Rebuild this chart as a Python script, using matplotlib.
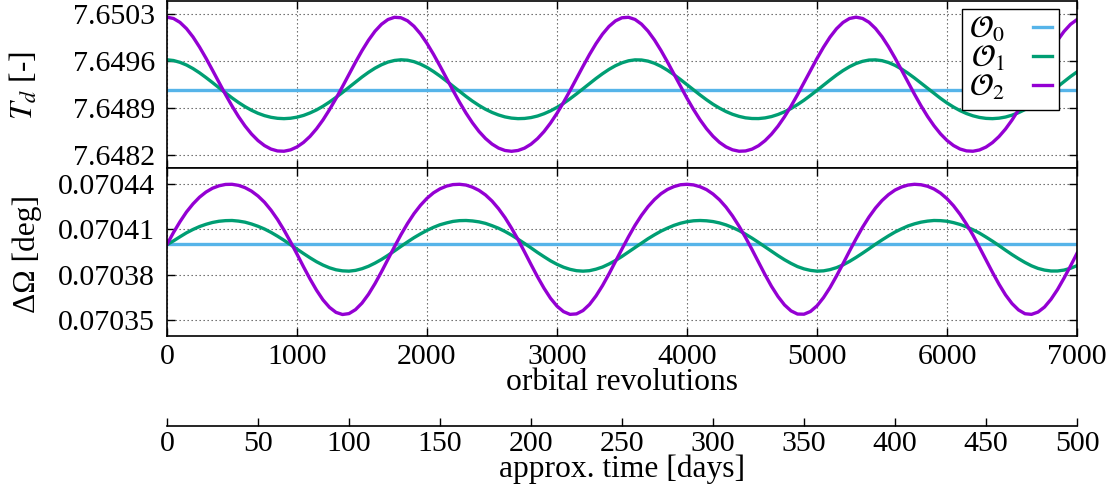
import numpy as np
import matplotlib
matplotlib.use("Agg")
import matplotlib.pyplot as plt
from matplotlib.ticker import FormatStrFormatter, MultipleLocator

plt.rcParams['font.family'] = ['Liberation Serif', 'DejaVu Serif']
plt.rcParams['mathtext.fontset'] = 'stix'

# Abtastung in Umlaeufen (orbital revolutions), alle 50
rev = np.arange(0, 7001, 50)
rev_o0 = [0, 7000]

# T_d [-]
td_o0 = [7.649162, 7.649162]
td_o1 = [7.649619, 7.649608, 7.649581, 7.649541, 7.649488, 7.649425, 7.649354, 7.649279, 7.649201, 7.649125,
         7.649051, 7.648982, 7.648920, 7.648866, 7.648821, 7.648786, 7.648761, 7.648746, 7.648741, 7.648747,
         7.648763, 7.648789, 7.648826, 7.648871, 7.648926, 7.648989, 7.649058, 7.649132, 7.649209, 7.649287,
         7.649362, 7.649432, 7.649494, 7.649545, 7.649585, 7.649609, 7.649619, 7.649613, 7.649591, 7.649554,
         7.649505, 7.649444, 7.649376, 7.649302, 7.649225, 7.649147, 7.649073, 7.649002, 7.648938, 7.648881,
         7.648834, 7.648796, 7.648767, 7.648749, 7.648741, 7.648744, 7.648757, 7.648780, 7.648814, 7.648857,
         7.648909, 7.648969, 7.649037, 7.649110, 7.649186, 7.649264, 7.649340, 7.649411, 7.649476, 7.649531,
         7.649574, 7.649604, 7.649618, 7.649616, 7.649599, 7.649567, 7.649521, 7.649463, 7.649397, 7.649324,
         7.649248, 7.649170, 7.649095, 7.649023, 7.648956, 7.648898, 7.648847, 7.648806, 7.648775, 7.648753,
         7.648743, 7.648742, 7.648752, 7.648772, 7.648803, 7.648843, 7.648892, 7.648951, 7.649016, 7.649088,
         7.649163, 7.649241, 7.649317, 7.649391, 7.649458, 7.649516, 7.649563, 7.649596, 7.649615, 7.649618,
         7.649606, 7.649578, 7.649536, 7.649482, 7.649418, 7.649347, 7.649271, 7.649193, 7.649117, 7.649044,
         7.648975, 7.648914, 7.648861, 7.648817, 7.648783, 7.648759, 7.648745, 7.648741, 7.648748, 7.648765,
         7.648793, 7.648830, 7.648877, 7.648932, 7.648996, 7.649066, 7.649140, 7.649217, 7.649295, 7.649369,
         7.649438]
td_o2 = [7.650255, 7.650235, 7.650177, 7.650084, 7.649960, 7.649810, 7.649643, 7.649464, 7.649281, 7.649101,
         7.648930, 7.648772, 7.648632, 7.648512, 7.648414, 7.648339, 7.648287, 7.648259, 7.648255, 7.648275,
         7.648319, 7.648386, 7.648476, 7.648589, 7.648722, 7.648875, 7.649042, 7.649219, 7.649402, 7.649583,
         7.649755, 7.649911, 7.650045, 7.650149, 7.650220, 7.650253, 7.650246, 7.650201, 7.650119, 7.650005,
         7.649863, 7.649701, 7.649526, 7.649343, 7.649162, 7.648987, 7.648824, 7.648678, 7.648550, 7.648445,
         7.648362, 7.648302, 7.648266, 7.648254, 7.648266, 7.648301, 7.648360, 7.648443, 7.648548, 7.648675,
         7.648821, 7.648984, 7.649158, 7.649340, 7.649522, 7.649698, 7.649860, 7.650002, 7.650117, 7.650200,
         7.650246, 7.650253, 7.650221, 7.650151, 7.650047, 7.649914, 7.649758, 7.649586, 7.649406, 7.649223,
         7.649045, 7.648878, 7.648725, 7.648591, 7.648478, 7.648387, 7.648320, 7.648276, 7.648255, 7.648259,
         7.648286, 7.648337, 7.648412, 7.648510, 7.648629, 7.648769, 7.648927, 7.649098, 7.649278, 7.649460,
         7.649639, 7.649807, 7.649957, 7.650082, 7.650176, 7.650235, 7.650255, 7.650236, 7.650179, 7.650086,
         7.649963, 7.649814, 7.649646, 7.649468, 7.649285, 7.649105, 7.648933, 7.648775, 7.648635, 7.648514,
         7.648416, 7.648340, 7.648288, 7.648260, 7.648255, 7.648274, 7.648317, 7.648384, 7.648474, 7.648586,
         7.648720, 7.648872, 7.649038, 7.649216, 7.649398, 7.649579, 7.649752, 7.649908, 7.650042, 7.650148,
         7.650219]

# Delta Omega [deg]
dom_o0 = [0.0704000, 0.0704000]
dom_o1 = [0.0703998, 0.0704023, 0.0704050, 0.0704076, 0.0704098, 0.0704117, 0.0704132, 0.0704144, 0.0704152, 0.0704156,
          0.0704157, 0.0704153, 0.0704146, 0.0704134, 0.0704119, 0.0704101, 0.0704079, 0.0704054, 0.0704027, 0.0703998,
          0.0703969, 0.0703940, 0.0703912, 0.0703886, 0.0703864, 0.0703846, 0.0703833, 0.0703826, 0.0703824, 0.0703829,
          0.0703840, 0.0703856, 0.0703877, 0.0703901, 0.0703928, 0.0703957, 0.0703987, 0.0704016, 0.0704044, 0.0704069,
          0.0704092, 0.0704112, 0.0704129, 0.0704141, 0.0704151, 0.0704156, 0.0704157, 0.0704154, 0.0704148, 0.0704138,
          0.0704123, 0.0704106, 0.0704085, 0.0704061, 0.0704034, 0.0704006, 0.0703977, 0.0703947, 0.0703919, 0.0703892,
          0.0703869, 0.0703850, 0.0703836, 0.0703827, 0.0703824, 0.0703827, 0.0703837, 0.0703851, 0.0703871, 0.0703894,
          0.0703921, 0.0703950, 0.0703979, 0.0704008, 0.0704037, 0.0704063, 0.0704087, 0.0704107, 0.0704125, 0.0704139,
          0.0704149, 0.0704155, 0.0704157, 0.0704155, 0.0704150, 0.0704141, 0.0704128, 0.0704111, 0.0704091, 0.0704067,
          0.0704041, 0.0704013, 0.0703984, 0.0703955, 0.0703926, 0.0703899, 0.0703875, 0.0703854, 0.0703839, 0.0703829,
          0.0703824, 0.0703826, 0.0703834, 0.0703847, 0.0703865, 0.0703888, 0.0703914, 0.0703942, 0.0703971, 0.0704001,
          0.0704029, 0.0704056, 0.0704081, 0.0704102, 0.0704121, 0.0704135, 0.0704146, 0.0704153, 0.0704157, 0.0704156,
          0.0704152, 0.0704143, 0.0704131, 0.0704115, 0.0704096, 0.0704074, 0.0704048, 0.0704021, 0.0703992, 0.0703962,
          0.0703933, 0.0703906, 0.0703881, 0.0703859, 0.0703842, 0.0703831, 0.0703825, 0.0703825, 0.0703831, 0.0703843,
          0.0703860]
dom_o2 = [0.0704000, 0.0704078, 0.0704149, 0.0704213, 0.0704266, 0.0704310, 0.0704344, 0.0704369, 0.0704385, 0.0704394,
          0.0704395, 0.0704388, 0.0704373, 0.0704350, 0.0704318, 0.0704277, 0.0704225, 0.0704164, 0.0704094, 0.0704017,
          0.0703936, 0.0703853, 0.0703773, 0.0703699, 0.0703635, 0.0703586, 0.0703553, 0.0703539, 0.0703545, 0.0703571,
          0.0703614, 0.0703672, 0.0703742, 0.0703820, 0.0703903, 0.0703985, 0.0704064, 0.0704137, 0.0704202, 0.0704257,
          0.0704303, 0.0704339, 0.0704365, 0.0704383, 0.0704393, 0.0704395, 0.0704390, 0.0704376, 0.0704355, 0.0704325,
          0.0704285, 0.0704235, 0.0704176, 0.0704107, 0.0704032, 0.0703951, 0.0703868, 0.0703787, 0.0703712, 0.0703646,
          0.0703594, 0.0703558, 0.0703540, 0.0703543, 0.0703565, 0.0703605, 0.0703661, 0.0703729, 0.0703806, 0.0703888,
          0.0703970, 0.0704050, 0.0704125, 0.0704191, 0.0704248, 0.0704295, 0.0704333, 0.0704361, 0.0704380, 0.0704392,
          0.0704395, 0.0704391, 0.0704379, 0.0704360, 0.0704331, 0.0704293, 0.0704245, 0.0704187, 0.0704120, 0.0704046,
          0.0703966, 0.0703883, 0.0703801, 0.0703724, 0.0703657, 0.0703602, 0.0703563, 0.0703542, 0.0703541, 0.0703559,
          0.0703596, 0.0703650, 0.0703716, 0.0703792, 0.0703873, 0.0703956, 0.0704036, 0.0704112, 0.0704180, 0.0704239,
          0.0704288, 0.0704327, 0.0704357, 0.0704377, 0.0704390, 0.0704395, 0.0704392, 0.0704382, 0.0704364, 0.0704337,
          0.0704300, 0.0704254, 0.0704198, 0.0704133, 0.0704060, 0.0703980, 0.0703898, 0.0703816, 0.0703738, 0.0703668,
          0.0703611, 0.0703569, 0.0703544, 0.0703540, 0.0703555, 0.0703588, 0.0703639, 0.0703703, 0.0703778, 0.0703858,
          0.0703941]

td_ticks = [7.6482, 7.6489, 7.6496, 7.6503]
dom_ticks = [0.07035, 0.07038, 0.07041, 0.07044]

labels = [r'$\mathcal{O}_0$', r'$\mathcal{O}_1$', r'$\mathcal{O}_2$']
farben = ['#56b4e9', '#009e73', '#9400d3']
lw = 2.4
fs = 21.5
fs_lab = 22.7

fig = plt.figure(figsize=(11.17, 4.9), dpi=100)
ax1 = fig.add_axes([0.1495, 0.6565, 0.8147, 0.342])
ax2 = fig.add_axes([0.1495, 0.315, 0.8147, 0.3415])
ax3 = fig.add_axes([0.1495, 0.1306, 0.8147, 0.001])

# obere Grafik: T_d
ax1.plot(rev_o0, td_o0, color=farben[0], lw=lw, label=labels[0])
ax1.plot(rev, td_o1, color=farben[1], lw=lw, label=labels[1])
ax1.plot(rev, td_o2, color=farben[2], lw=lw, label=labels[2])
ax1.set_ylim(7.6480, 7.6505)
ax1.set_yticks(td_ticks)
ax1.yaxis.set_major_formatter(FormatStrFormatter('%.4f'))

# untere Grafik: Delta Omega
ax2.plot(rev_o0, dom_o0, color=farben[0], lw=lw)
ax2.plot(rev, dom_o1, color=farben[1], lw=lw)
ax2.plot(rev, dom_o2, color=farben[2], lw=lw)
ax2.set_ylim(0.07034, 0.07045)
ax2.set_yticks(dom_ticks)
ax2.yaxis.set_major_formatter(FormatStrFormatter('%.5f'))

for ax in (ax1, ax2):
    ax.set_xlim(0, 7000)
    ax.xaxis.set_major_locator(MultipleLocator(1000))
    ax.grid(True, color='0.35', linestyle=(0, (1.2, 2.4)), linewidth=0.8)
    ax.tick_params(direction='in', top=True, right=True, length=6, width=1.0,
                   labelsize=fs)
    ax.tick_params(axis='y', pad=8.5)
    ax.tick_params(axis='x', pad=6)
    for s in ax.spines.values():
        s.set_linewidth(1.2)
ax1.tick_params(labelbottom=False)

# Legende
leg = ax1.legend(loc='upper right', bbox_to_anchor=(0.980, 0.952), markerfirst=False,
                 handlelength=0.6, handletextpad=0.9, labelspacing=0.0, borderpad=0.22,
                 borderaxespad=0, fancybox=False, edgecolor='black', framealpha=1,
                 fontsize=22.5)
leg.get_frame().set_linewidth(1.0)

# zweite x-Achse: Tage
ax3.set_xlim(0, 500)
ax3.xaxis.set_major_locator(MultipleLocator(50))
ax3.set_yticks([])
ax3.patch.set_alpha(0)
for s in ('left', 'right', 'top'):
    ax3.spines[s].set_visible(False)
ax3.spines['bottom'].set_linewidth(1.2)
ax3.tick_params(direction='in', length=6, width=1.0, labelsize=fs, pad=3.5)

# Achsenbeschriftungen
fig.text(0.0215, 0.8265, r'$T_d$ [-]', rotation=90, ha='center', va='center', fontsize=fs_lab)
fig.text(0.024, 0.4827, 'ΔΩ [deg]', rotation=90, ha='center', va='center', fontsize=fs_lab)
fig.text(0.5566, 0.2041, 'orbital revolutions', ha='center', va='baseline', fontsize=fs_lab)
fig.text(0.5566, 0.027, 'approx. time [days]', ha='center', va='baseline', fontsize=fs_lab)

fig.savefig('out.png', dpi=100)
